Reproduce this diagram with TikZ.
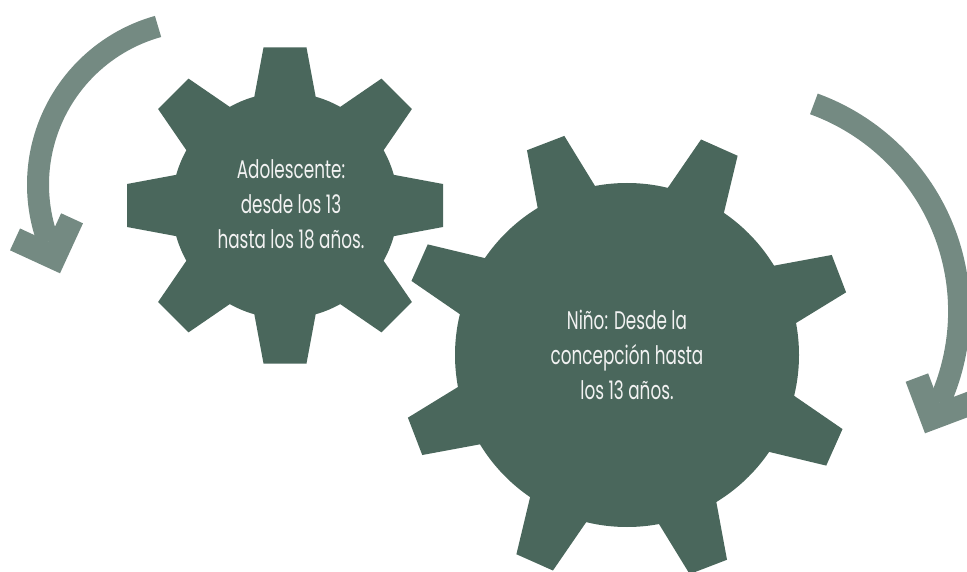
\documentclass[tikz,border=0pt]{standalone}
\usepackage{fontspec}
\newfontfamily\gearfont[FakeStretch=0.66]{Poppins}
\definecolor{gearcol}{HTML}{4A675C}
\definecolor{arrowcol}{HTML}{748A82}
\definecolor{txtcol}{HTML}{F2F2F2}
\tikzset{
  geartxt/.style={text=txtcol, align=center, inner sep=0pt,
    font={\gearfont\fontsize{25.5}{35}\selectfont}},
  shaft/.style={draw=arrowcol, line width=22pt},
  headfill/.style={fill=arrowcol}
}
\begin{document}
\begin{tikzpicture}[x=1pt,y=-1pt]
\clip (0,0) rectangle (967,572);
% small gear
\begin{scope}[shift={(285,205.5)}]
  \fill[gearcol] (0,0) circle[radius=113];
  \foreach \a in {0,45,...,315}{
    \fill[gearcol,rotate=\a] (107,-31) -- (158,-21.5) -- (158,21.5) -- (107,31) -- cycle;
  }
\end{scope}
% big gear
\begin{scope}[shift={(627,355)}]
  \fill[gearcol] (0,0) circle[radius=172];
  \foreach \a in {21,66,...,336}{
    \fill[gearcol,rotate=\a] (165,-31.5) -- (227,-20) -- (227,20) -- (165,31.5) -- cycle;
  }
\end{scope}
% left arrow
\coordinate (lc) at (202.2,184.6);
\draw[shaft] ([shift={(-105.6:164.2)}]lc) arc[start angle=-105.6, end angle=-200.3, radius=164.2];
\begin{scope}[shift={(60,273.3)}, rotate=-69.7]
  \fill[headfill] (0,0) -- (-38.9,38.9) -- (-55.9,21.9) -- (-33.9,0) -- (-55.9,-21.9) -- (-38.9,-38.9) -- cycle;
\end{scope}
% right arrow
\coordinate (rc) at (738.4,311.3);
\draw[shaft] ([shift={(-70:220.7)}]rc) arc[start angle=-70, end angle=24.4, radius=220.7];
\begin{scope}[shift={(925,433.3)}, rotate=-114.4]
  \fill[headfill] (0,0) -- (-38.9,38.9) -- (-55.9,21.9) -- (-33.9,0) -- (-55.9,-21.9) -- (-38.9,-38.9) -- cycle;
\end{scope}
% texts
\node[geartxt] (adol) at (291,204) {Adolescente:\\desde los 13\\hasta los 18 años.};
\node[geartxt] (nino) at (627,355) {Niño: Desde la\\concepción hasta\\los 13 años.};
\end{tikzpicture}
\end{document}
